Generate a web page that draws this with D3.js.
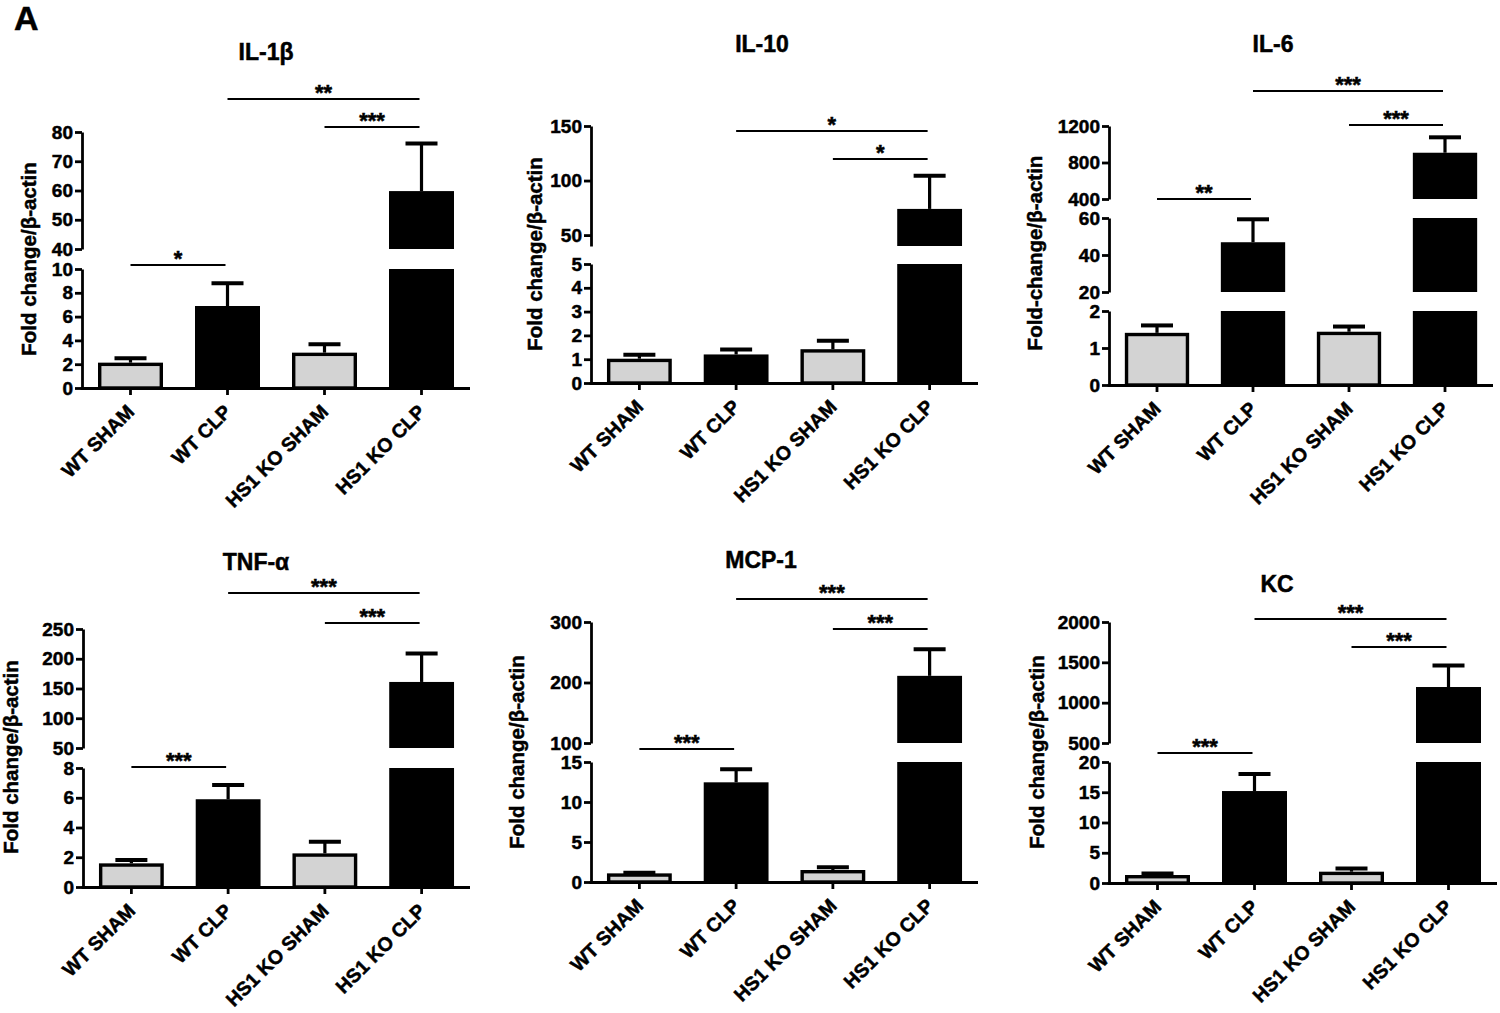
<!DOCTYPE html>
<html>
<head>
<meta charset="utf-8">
<script src="https://cdn.jsdelivr.net/npm/d3@7"></script>
<style>
  html, body { margin: 0; padding: 0; background: #fff; }
  svg { display: block; }
  text { font-family: "Liberation Sans", Arial, Helvetica, sans-serif; font-weight: bold; fill: #000; stroke: #000; stroke-width: 0.5px; }
</style>
</head>
<body>
<svg id="chart" width="1500" height="1013"></svg>
<script>
// ---------------- DATA ----------------
const categories = ["WT SHAM", "WT CLP", "HS1 KO SHAM", "HS1 KO CLP"];
const isKO = [false, true, false, true]; // CLP groups drawn in black
const panelTitles = ["IL-1β", "IL-10", "IL-6", "TNF-α", "MCP-1", "KC"];
const yTitles = ["Fold change/β-actin", "Fold change/β-actin", "Fold-change/β-actin",
                 "Fold change/β-actin", "Fold change/β-actin", "Fold change/β-actin"];

// means and SEM per cytokine (order = categories)
const meanIL1b = [2.13, 6.89, 2.97, 59.8];
const semIL1b  = [0.36, 1.91, 0.70, 16.3];
const meanIL10 = [1.02, 1.20, 1.42, 74];
const semIL10  = [0.17, 0.21, 0.36, 30.5];
const meanIL6  = [1.41, 46.9, 1.44, 907];
const semIL6   = [0.20, 12.4, 0.14, 169];
const meanTNF  = [1.59, 5.90, 2.26, 161];
const semTNF   = [0.22, 0.96, 0.79, 48];
const meanMCP1 = [1.08, 12.46, 1.50, 211];
const semMCP1  = [0.08, 1.64, 0.33, 44];
const meanKC   = [1.32, 15.2, 1.87, 1194];
const semKC    = [0.27, 2.80, 0.53, 268];

// broken-axis segment domains (bottom to top)
const segIL1b = [[0, 10], [40, 80]];
const segIL10 = [[0, 5], [40, 150]];
const segIL6  = [[0, 2], [20, 60], [400, 1200]];
const segTNF  = [[0, 8], [50, 250]];
const segMCP1 = [[0, 15], [100, 300]];
const segKC   = [[0, 20], [500, 2000]];

// tick values per segment
const ticksIL1b = [[0, 2, 4, 6, 8, 10], [40, 50, 60, 70, 80]];
const ticksIL10 = [[0, 1, 2, 3, 4, 5], [50, 100, 150]];
const ticksIL6  = [[0, 1, 2], [20, 40, 60], [400, 800, 1200]];
const ticksTNF  = [[0, 2, 4, 6, 8], [50, 100, 150, 200, 250]];
const ticksMCP1 = [[0, 5, 10, 15], [100, 200, 300]];
const ticksKC   = [[0, 5, 10, 15, 20], [500, 1000, 1500, 2000]];

// significance comparisons [groupA, groupB, label]
const sigIL1b = [[0, 1, "*"], [1, 3, "**"], [2, 3, "***"]];
const sigIL10 = [[1, 3, "*"], [2, 3, "*"]];
const sigIL6  = [[0, 1, "**"], [1, 3, "***"], [2, 3, "***"]];
const sigTNF  = [[0, 1, "***"], [1, 3, "***"], [2, 3, "***"]];
const sigMCP1 = [[0, 1, "***"], [1, 3, "***"], [2, 3, "***"]];
const sigKC   = [[0, 1, "***"], [1, 3, "***"], [2, 3, "***"]];

// ---------------- LAYOUT ----------------
const layouts = [
  { ax: 82,   right: 470,  seg: [[388, 269], [249, 132]],             title: [266, 60],  ylab: [36, 259],   sigY: [265, 99, 127] },
  { ax: 591,  right: 978,  seg: [[383, 264], [246, 126]],             title: [762, 52],  ylab: [542, 254],  sigY: [131, 159] },
  { ax: 1109, right: 1493, seg: [[385, 311], [292, 218], [199, 126]], title: [1273, 52], ylab: [1042, 253], sigY: [199, 91, 125] },
  { ax: 83,   right: 470,  seg: [[887, 768], [748, 629]],             title: [256, 570], ylab: [18, 757],   sigY: [767, 593, 623] },
  { ax: 591,  right: 978,  seg: [[882, 762], [743, 622]],             title: [761, 568], ylab: [524, 752],  sigY: [749, 599, 629] },
  { ax: 1109, right: 1497, seg: [[883, 762], [743, 622]],             title: [1277, 592],ylab: [1044, 752], sigY: [753, 619, 647] }
];

const panels = [
  { mean: meanIL1b, sem: semIL1b, seg: segIL1b, ticks: ticksIL1b, sig: sigIL1b },
  { mean: meanIL10, sem: semIL10, seg: segIL10, ticks: ticksIL10, sig: sigIL10 },
  { mean: meanIL6,  sem: semIL6,  seg: segIL6,  ticks: ticksIL6,  sig: sigIL6 },
  { mean: meanTNF,  sem: semTNF,  seg: segTNF,  ticks: ticksTNF,  sig: sigTNF },
  { mean: meanMCP1, sem: semMCP1, seg: segMCP1, ticks: ticksMCP1, sig: sigMCP1 },
  { mean: meanKC,   sem: semKC,   seg: segKC,   ticks: ticksKC,   sig: sigKC }
];

const svg = d3.select("#chart");
const GREY = "#d3d3d3";

svg.append("text").attr("x", 14).attr("y", 30).attr("font-size", 34).text("A");

panels.forEach((p, pi) => {
  const L = layouts[pi];
  const g = svg.append("g");

  const x = d3.scaleBand().domain(categories).range([L.ax, L.right])
    .paddingInner(0.33).paddingOuter(0.165);
  const cx = i => x(categories[i]) + x.bandwidth() / 2;

  const scales = p.seg.map((d, k) => d3.scaleLinear().domain(d).range(L.seg[k]));
  const findSeg = v => {
    for (let k = 0; k < p.seg.length; k++) if (v >= p.seg[k][0] && v <= p.seg[k][1]) return k;
    return p.seg.length - 1;
  };

  // error bars (drawn first, bar outline covers base)
  const capHalf = 16;
  p.mean.forEach((m, i) => {
    const top = m + p.sem[i];
    const k = findSeg(top);
    const s = scales[k];
    const yTop = s(top);
    const yBase = s(Math.max(m, p.seg[k][0]));
    g.append("line").attr("x1", cx(i)).attr("x2", cx(i))
      .attr("y1", yBase).attr("y2", yTop).attr("stroke", "#000").attr("stroke-width", 3.2);
    g.append("line").attr("x1", cx(i) - capHalf).attr("x2", cx(i) + capHalf)
      .attr("y1", yTop).attr("y2", yTop).attr("stroke", "#000").attr("stroke-width", 4);
  });

  // bars, split across axis segments
  p.mean.forEach((m, i) => {
    p.seg.forEach((d, k) => {
      if (m <= d[0]) return;
      const s = scales[k];
      const y0 = s(d[0]);
      const y1 = s(Math.min(m, d[1]));
      const sw = isKO[i] ? 0 : 3.4;
      g.append("rect")
        .attr("x", x(categories[i]) + sw / 2)
        .attr("y", y1 + sw / 2)
        .attr("width", x.bandwidth() - sw)
        .attr("height", Math.max(0, y0 - y1 - sw / 2))
        .attr("fill", isKO[i] ? "#000" : GREY)
        .attr("stroke", isKO[i] ? "none" : "#000")
        .attr("stroke-width", sw);
    });
  });

  // y axis segments
  scales.forEach((s, k) => {
    const ax = g.append("g").attr("transform", `translate(${L.ax},0)`)
      .call(d3.axisLeft(s).tickValues(p.ticks[k]).tickSize(7).tickSizeOuter(0).tickPadding(2).tickFormat(d3.format("d")));
    ax.selectAll("path.domain").attr("stroke-width", 2.8);
    ax.selectAll(".tick line").attr("stroke-width", 2.8);
    ax.selectAll(".tick text").attr("font-size", 19).attr("font-family", "Liberation Sans, Arial, sans-serif")
      .attr("font-weight", "bold").attr("fill", "#000");
  });

  // x axis
  const y0 = scales[0](0);
  const xa = g.append("g").attr("transform", `translate(0,${y0})`)
    .call(d3.axisBottom(x).tickSize(7).tickSizeOuter(0).tickFormat(""));
  xa.selectAll("path.domain").attr("stroke-width", 2.8).attr("d", `M${L.ax - 1.4},0.5H${L.right}`);
  xa.selectAll(".tick line").attr("stroke-width", 2.8);

  // rotated category labels
  categories.forEach((c, i) => {
    g.append("text")
      .attr("transform", `translate(${cx(i) + 5},${y0 + 25}) rotate(-45)`)
      .attr("text-anchor", "end")
      .attr("font-size", 19.5)
      .text(c);
  });

  // title
  g.append("text").attr("x", L.title[0]).attr("y", L.title[1])
    .attr("text-anchor", "middle").attr("font-size", 23).text(panelTitles[pi]);

  // y title
  g.append("text")
    .attr("transform", `translate(${L.ylab[0]},${L.ylab[1]}) rotate(-90)`)
    .attr("text-anchor", "middle").attr("font-size", 20.5).text(yTitles[pi]);

  // significance bars
  p.sig.forEach((s, k) => {
    const yL = L.sigY[k];
    const xa1 = cx(s[0]), xa2 = cx(s[1]) - 2;
    g.append("line").attr("x1", xa1).attr("x2", xa2).attr("y1", yL).attr("y2", yL)
      .attr("stroke", "#000").attr("stroke-width", 2.2);
    g.append("text").attr("x", (xa1 + xa2) / 2).attr("y", yL + 1)
      .attr("text-anchor", "middle").attr("font-size", 22).attr("stroke-width", 0.3).text(s[2]);
  });
});
</script>
</body>
</html>
